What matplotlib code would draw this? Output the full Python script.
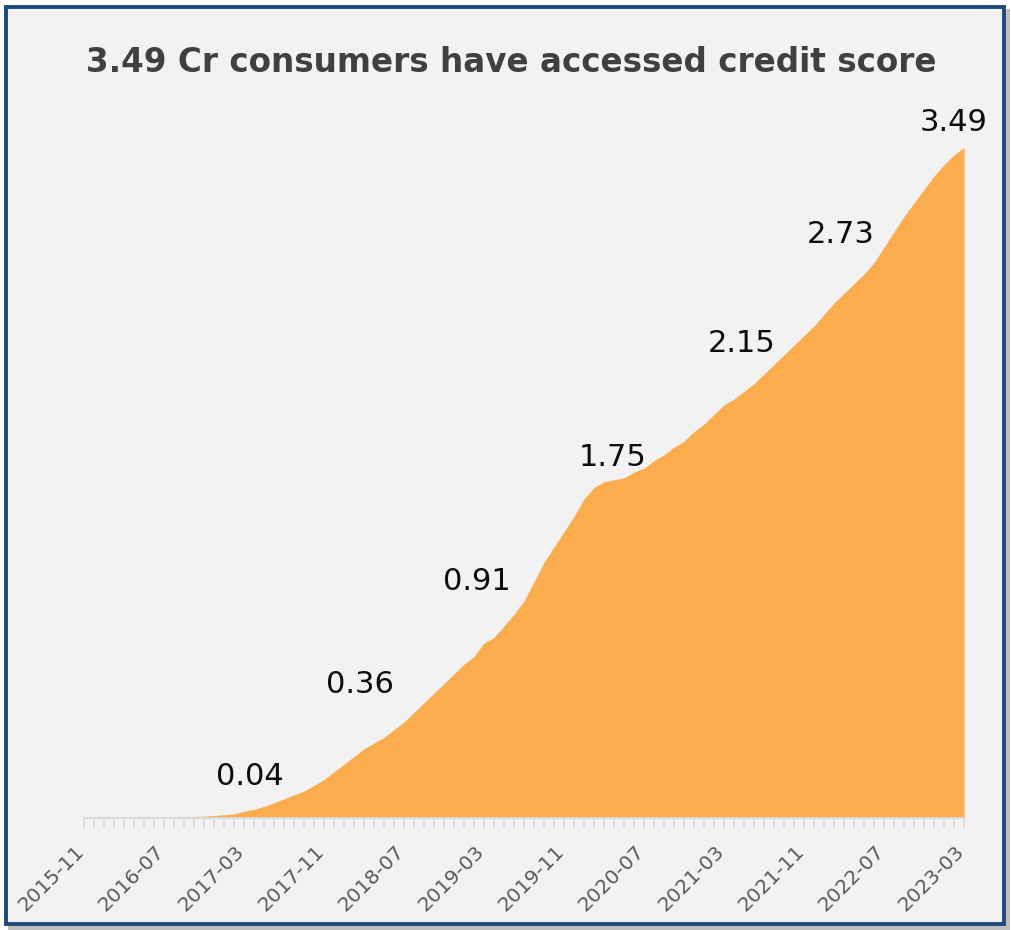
import numpy as np
import pandas as pd
import matplotlib
matplotlib.use("Agg")
import matplotlib.pyplot as plt
from matplotlib.patches import Rectangle
from matplotlib.transforms import ScaledTranslation


# monthly cumulative consumers (Cr), 2015-11 .. 2023-03
months = pd.period_range("2015-11", "2023-03", freq="M").strftime("%Y-%m").tolist()
consumers_cr = [
    0, 0, 0, 0, 0, 0, 0, 0,
    0.002, 0.004, 0.006, 0.008, 0.010, 0.013, 0.017, 0.021,
    0.035, 0.045, 0.06, 0.08, 0.10, 0.12, 0.14, 0.17,
    0.20, 0.24, 0.28, 0.32, 0.36, 0.39, 0.42, 0.46,
    0.50, 0.55, 0.60, 0.65, 0.70, 0.75, 0.80, 0.84,
    0.91, 0.94, 1.00, 1.06, 1.13, 1.23, 1.33, 1.41,
    1.49, 1.57, 1.66, 1.72, 1.75, 1.76, 1.77, 1.80,
    1.82, 1.86, 1.89, 1.93, 1.96, 2.01, 2.05, 2.10,
    2.15, 2.18, 2.22, 2.26, 2.31, 2.36, 2.41, 2.46,
    2.51, 2.56, 2.62, 2.68, 2.73, 2.78, 2.83, 2.89,
    2.97, 3.05, 3.13, 3.20, 3.27, 3.34, 3.40, 3.45,
    3.49,
]

# annotated March values
label_months = ["2017-03", "2018-03", "2019-03", "2020-03", "2021-03", "2022-03", "2023-03"]
label_values = [0.04, 0.36, 0.91, 1.75, 2.15, 2.73, 3.49]
# label offsets from the point, in pixels
label_offsets = [(6, 35), (-4, 64), (-7, 62), (9, 24), (18, 61), (-3, 59), (-10, 25)]

tick_labels = months[::8]

TITLE = "3.49 Cr consumers have accessed credit score"
FILL = "#FBAC4D"
BG = "#F2F2F2"
FRAME = "#1F497D"

plt.rcParams["font.family"] = ["DejaVu Sans"]

fig = plt.figure(figsize=(10.12, 9.30), dpi=100, facecolor="white")

# shadow + frame, kept below the axes
fig.patches.append(Rectangle((0.008, 0.0), 0.990, 0.990, transform=fig.transFigure,
                             facecolor="#BFBFBF", edgecolor="none", zorder=-3))
fig.patches.append(Rectangle((0.006, 0.006), 0.986, 0.986, transform=fig.transFigure,
                             facecolor=BG, edgecolor=FRAME, linewidth=2.8, zorder=-2))

ax = fig.add_axes([0.083, 0.1204, 0.8696, 0.744])
ax.set_facecolor("none")
ax.set_zorder(2)

x = np.arange(len(months))
ax.fill_between(x, consumers_cr, 0, color=FILL, linewidth=0, zorder=2)

for m, v, off in zip(label_months, label_values, label_offsets):
    i = months.index(m)
    ax.annotate(f"{v:.2f}", xy=(i, consumers_cr[i]), xytext=off,
                textcoords="offset pixels", ha="center", va="center",
                fontsize=22, color="#0D0D0D")

ax.set_xlim(0, len(months) - 1)
ax.set_ylim(0, 3.6)

ax.set_xticks(x[::8])
ax.set_xticklabels(tick_labels, rotation=45, ha="right", rotation_mode="anchor",
                   fontsize=14.5, color="#595959")
ax.set_xticks(x, minor=True)
ax.tick_params(axis="x", which="both", length=7, width=1.2, color="#D9D9D9", pad=10)
ax.set_yticks([])

# nudge rotated labels a little to the left, like the original
shift = ScaledTranslation(-7 / 72, 0, fig.dpi_scale_trans)
for lbl in ax.get_xticklabels():
    lbl.set_transform(lbl.get_transform() + shift)

for side in ["top", "left", "right"]:
    ax.spines[side].set_visible(False)
ax.spines["bottom"].set_color("#D9D9D9")
ax.spines["bottom"].set_linewidth(1.5)

fig.text(0.505, 0.933, TITLE, ha="center", va="center", fontsize=23.5,
         fontweight="bold", color="#404040", zorder=3)

fig.savefig("out.png", dpi=100, facecolor=fig.get_facecolor())
